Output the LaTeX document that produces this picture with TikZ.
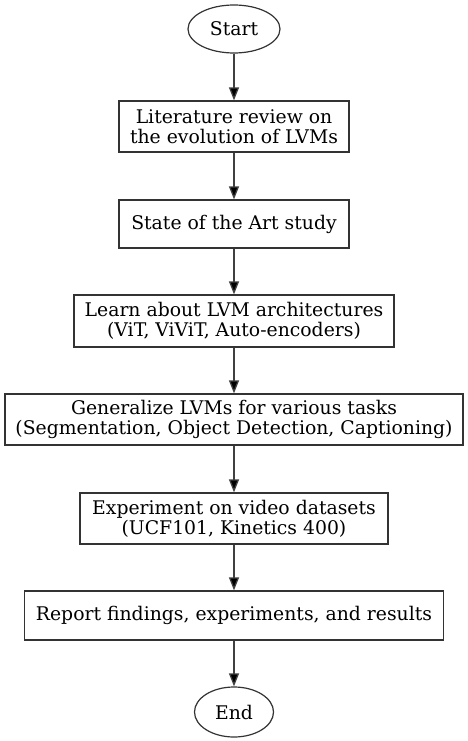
\documentclass[tikz,border=0pt]{standalone}
\usepackage{fontspec}
\setmainfont{DejaVu Serif}
\usetikzlibrary{shapes.geometric,arrows.meta}
\begin{document}
\begin{tikzpicture}[x=1pt,y=-1pt,
  every node/.style={font=\fontsize{18.8}{20}\selectfont, align=center, inner sep=0pt, draw=black!80, line width=1.2pt},
  term/.style={ellipse},
  box/.style={rectangle},
  flow/.style={draw=black!75, line width=1.3pt, -{Triangle[length=13pt,width=10pt,fill=black]}}]
\useasboundingbox (0,0) rectangle (468,741);
\node[term, minimum width=92pt, minimum height=48pt] (start) at (234,29) {Start};
\node[box, minimum width=230pt, minimum height=51pt] (b1) at (234,126.5) {Literature review on\\the evolution of LVMs};
\node[box, minimum width=230pt, minimum height=48pt] (b2) at (234,224) {State of the Art study};
\node[box, minimum width=320pt, minimum height=52pt] (b3) at (234,321) {Learn about LVM architectures\\(ViT, ViViT, Auto-encoders)};
\node[box, minimum width=458pt, minimum height=51pt] (b4) at (234,419.5) {Generalize LVMs for various tasks\\(Segmentation, Object Detection, Captioning)};
\node[box, minimum width=308pt, minimum height=51pt] (b5) at (234,518.5) {Experiment on video datasets\\(UCF101, Kinetics 400)};
\node[box, minimum width=419pt, minimum height=49pt] (b6) at (234,615.5) {Report findings, experiments, and results};
\node[term, minimum width=79pt, minimum height=50pt] (end) at (234,712) {End};
\draw[flow] (start) -- (b1);
\draw[flow] (b1) -- (b2);
\draw[flow] (b2) -- (b3);
\draw[flow] (b3) -- (b4);
\draw[flow] (b4) -- (b5);
\draw[flow] (b5) -- (b6);
\draw[flow] (b6) -- (end);
\end{tikzpicture}
\end{document}
